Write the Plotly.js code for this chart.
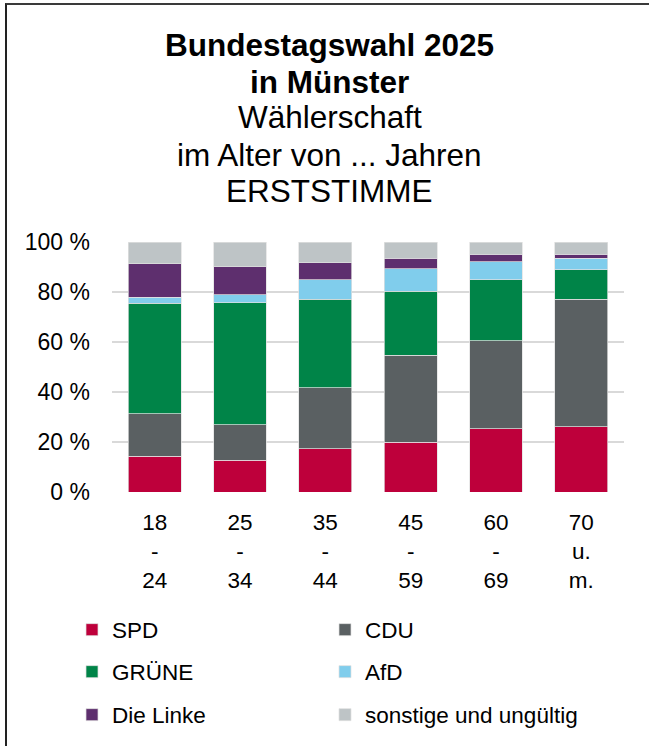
<!DOCTYPE html>
<html>
<head>
<meta charset="utf-8">
<script src="https://cdn.plot.ly/plotly-3.0.1.min.js"></script>
<style>
  html, body { margin: 0; padding: 0; background: #ffffff; }
  #chart { width: 649px; height: 746px; position: relative; }
  #frame { position: absolute; left: 5px; top: 3px; width: 700px; height: 800px;
           border-top: 2px solid #3a3a3a; border-left: 2px solid #222; pointer-events: none; z-index: 10; }
</style>
</head>
<body>
<div id="chart"></div>
<div id="frame"></div>
<script>
// Categories (age groups)
const categories = ["18<br>-<br>24", "25<br>-<br>34", "35<br>-<br>44", "45<br>-<br>59", "60<br>-<br>69", "70<br>u.<br>m."];
// Series values (%)
const spd    = [14.3, 12.7, 17.4, 19.9, 25.4, 26.1];
const cdu    = [17.1, 14.2, 24.3, 34.9, 35.1, 51.0];
const gruene = [44.1, 48.9, 35.4, 25.6, 24.4, 11.9];
const afd    = [2.5, 3.1, 7.8, 8.9, 7.2, 4.5];
const linke  = [13.3, 11.2, 6.8, 4.3, 3.1, 1.7];
const sonst  = [8.7, 9.9, 8.3, 6.4, 4.8, 4.8];
// Tick labels
const yTickVals = [0, 20, 40, 60, 80, 100];
const yTickText = ["0 %", "20 %", "40 %", "60 %", "80 %", "100 %"];
const titleLines = ["<b>Bundestagswahl 2025</b>", "<b>in Münster</b>", "Wählerschaft", "im Alter von ... Jahren", "ERSTSTIMME"];

const W = 649, H = 746;
const M = {l: 112, r: 25, t: 242, b: 253};
const plotH = H - M.t - M.b, plotW = W - M.l - M.r;
const py = (ypx) => (H - M.b - ypx) / plotH;
const px = (xpx) => (xpx - M.l) / plotW;

const FONT = "Liberation Sans, Arial, sans-serif";
const lineStyle = {color: "rgba(225,225,225,0.9)", width: 0.8};

function mk(name, vals, color, legend) {
  return {type: "bar", name: name, x: categories, y: vals,
          marker: {color: color, line: lineStyle}, legend: legend, hoverinfo: "skip"};
}
const data = [
  mk("SPD", spd, "#be003b", "legend"),
  mk("CDU", cdu, "#5a6062", "legend"),
  mk("GRÜNE", gruene, "#008448", "legend2"),
  mk("AfD", afd, "#80cdec", "legend2"),
  mk("Die Linke", linke, "#5e2f6e", "legend3"),
  mk("sonstige und ungültig", sonst, "#bec4c6", "legend3")
];

const titleY = [44.5, 81, 117, 155, 191];
const annotations = titleLines.map((t, i) => ({
  text: t, xref: "paper", yref: "paper", x: px(329.5), y: py(titleY[i]),
  xanchor: "center", yanchor: "middle", showarrow: false,
  font: {family: FONT, size: 31.5, color: "#000"}
}));

const legBase = {orientation: "h", x: px(72), xanchor: "left", yanchor: "middle",
  entrywidth: 208, font: {family: FONT, size: 22.5, color: "#000"}, bgcolor: "rgba(0,0,0,0)",
  traceorder: "normal", itemclick: false, itemdoubleclick: false};

const layout = {
  width: W, height: H, margin: M,
  paper_bgcolor: "#ffffff", plot_bgcolor: "#ffffff",
  barmode: "stack", bargap: 0.38,
  showlegend: true,
  font: {family: FONT, size: 22, color: "#000"},
  xaxis: {type: "category", showgrid: false, zeroline: false, showline: false, ticks: "",
          ticklabelstandoff: 14, tickfont: {family: FONT, size: 22.5, color: "#000"}},
  yaxis: {range: [0, 100], tickvals: yTickVals, ticktext: yTickText, showgrid: true,
          gridcolor: "#d9d9d9", gridwidth: 1.6, zeroline: false, showline: false, ticks: "",
          ticklabelstandoff: 21, tickfont: {family: FONT, size: 23, color: "#000"}},
  legend: Object.assign({}, legBase, {y: py(630)}),
  legend2: Object.assign({}, legBase, {y: py(672)}),
  legend3: Object.assign({}, legBase, {y: py(715)}),
  annotations: annotations
};

Plotly.newPlot("chart", data, layout, {staticPlot: true, displayModeBar: false});
</script>
</body>
</html>
